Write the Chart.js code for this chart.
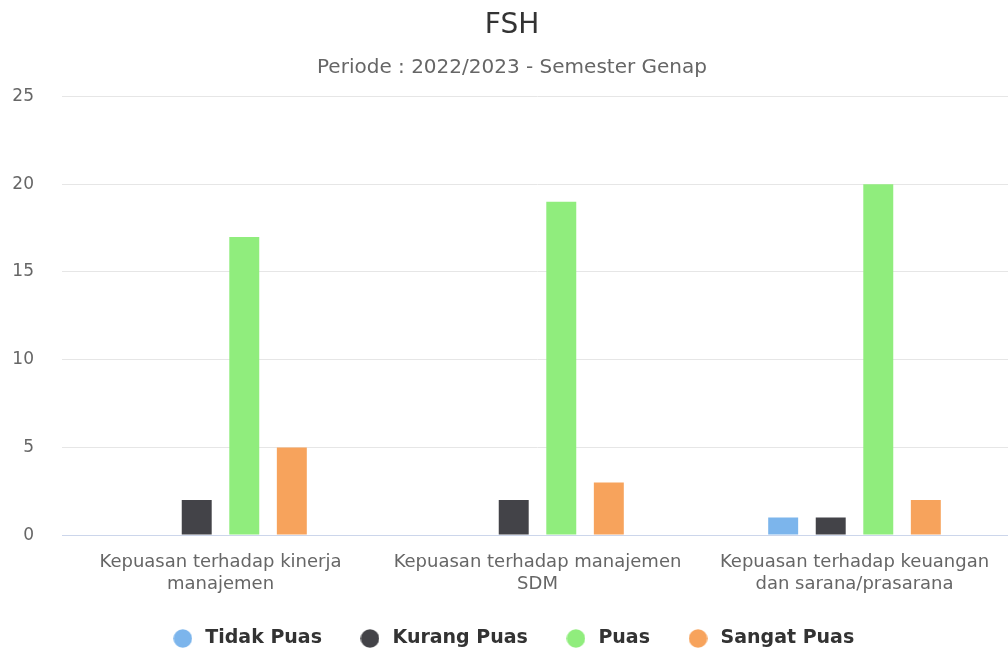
<!DOCTYPE html>
<html>
<head>
<meta charset="utf-8">
<script src="https://cdn.jsdelivr.net/npm/chart.js@4.4.0/dist/chart.umd.min.js"></script>
<style>
  html, body { margin: 0; padding: 0; background: #fff; overflow: hidden; }
  #wrap { width: 1024px; height: 652px; }
</style>
</head>
<body>
<div id="wrap"><canvas id="chartFsh"></canvas></div>
<script>
// kategori (label x dipecah per baris seperti di gambar)
var categories = [
    ['Kepuasan terhadap kinerja', 'manajemen'],
    ['Kepuasan terhadap manajemen', 'SDM'],
    ['Kepuasan terhadap keuangan', 'dan sarana/prasarana']
];
var tidakPuas = [0, 0, 1];
var kurangPuas = [2, 2, 1];
var puas = [17, 19, 20];
var sangatPuas = [5, 3, 2];
var yTicks = [0, 5, 10, 15, 20, 25];

var fontFamily = '"DejaVu Sans", Verdana, sans-serif';

// titik bulat untuk legenda
function makeDot(color) {
    var c = document.createElement('canvas');
    c.width = 19;
    c.height = 19;
    var g = c.getContext('2d');
    g.fillStyle = color;
    g.beginPath();
    g.arc(9.5, 9.5, 9.3, 0, Math.PI * 2);
    g.fill();
    return c;
}

var ctx = document.getElementById('chartFsh').getContext('2d');
var chart = new Chart(ctx, {
    type: 'bar',
    data: {
        labels: categories,
        datasets: [
            { label: 'Tidak Puas', data: tidakPuas, backgroundColor: '#7cb5ec', pointStyle: makeDot('#7cb5ec') },
            { label: 'Kurang Puas', data: kurangPuas, backgroundColor: '#434348', pointStyle: makeDot('#434348') },
            { label: 'Puas', data: puas, backgroundColor: '#90ed7d', pointStyle: makeDot('#90ed7d') },
            { label: 'Sangat Puas', data: sangatPuas, backgroundColor: '#f7a35c', pointStyle: makeDot('#f7a35c') }
        ]
    },
    options: {
        responsive: true,
        maintainAspectRatio: false,
        animation: false,
        events: [],
        categoryPercentage: 0.6,
        barPercentage: 0.63,
        layout: { padding: 0 },
        plugins: {
            title: {
                display: true,
                text: 'FSH',
                color: '#333333',
                font: { family: fontFamily, size: 28, weight: 'normal' },
                padding: { top: 9, bottom: 13 }
            },
            subtitle: {
                display: true,
                text: 'Periode : 2022/2023 - Semester Genap',
                color: '#666666',
                font: { family: fontFamily, size: 20 },
                padding: { top: 0, bottom: 17 }
            },
            legend: {
                position: 'bottom',
                maxHeight: 58,
                labels: {
                    usePointStyle: true,
                    pointStyleWidth: 26,
                    boxHeight: 13,
                    padding: 35,
                    color: '#333333',
                    font: { family: fontFamily, size: 19, weight: 'bold' }
                }
            },
            tooltip: { enabled: false }
        },
        scales: {
            x: {
                afterFit: function(scale) { scale.height -= 17; },
                grid: { display: false, drawTicks: false },
                border: { display: true, color: '#ccd6eb', width: 1 },
                ticks: {
                    color: '#666666',
                    padding: 16,
                    maxRotation: 0,
                    autoSkip: false,
                    font: { family: fontFamily, size: 18, lineHeight: 1.22 }
                }
            },
            y: {
                min: 0,
                max: 25,
                afterFit: function(scale) { scale.width = 62; },
                afterBuildTicks: function(scale) {
                    scale.ticks = yTicks.map(function(v) { return { value: v }; });
                },
                grid: { color: '#e6e6e6', drawTicks: false },
                border: { display: false },
                ticks: {
                    color: '#666666',
                    padding: 28,
                    font: { family: fontFamily, size: 17 }
                }
            },
            // sumbu kosong di kanan, hanya untuk memberi jarak
            yKanan: {
                position: 'right',
                afterFit: function(scale) { scale.width = 11; },
                grid: { display: false, drawTicks: false },
                border: { display: false },
                ticks: { display: false }
            }
        }
    }
});
</script>
</body>
</html>
